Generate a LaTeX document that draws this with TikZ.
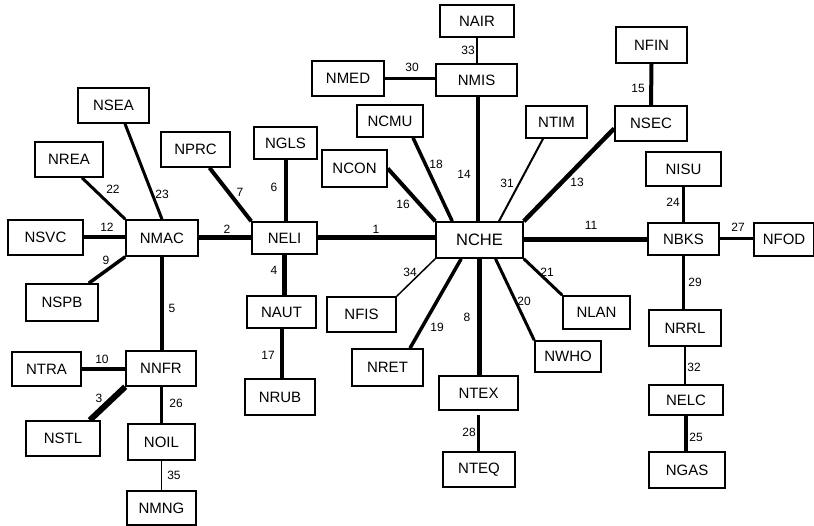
\documentclass[tikz,border=0pt]{standalone}
\usepackage{fontspec}
\setmainfont{Liberation Sans}
\usetikzlibrary{calc,backgrounds}
\tikzset{
  box/.style={draw, line width=1.6pt, fill=white, inner sep=0pt, font=\fontsize{15}{17}\selectfont},
  lbl/.style={inner sep=0pt, font=\fontsize{12}{14}\selectfont},
  edge/.style={line width=#1}
}
\newcommand{\bx}[6]{\node[box, minimum width=#4pt, minimum height=#5pt] (#1) at (#2,#3) {#6};}
\begin{document}
\begin{tikzpicture}[x=1pt,y=-1pt]
\useasboundingbox (0,0) rectangle (814,526);
% nodes
\bx{nsea}{113.5}{105.5}{71}{35}{NSEA}
\bx{nrea}{69}{159.5}{68}{35}{NREA}
\bx{nprc}{195.5}{149.5}{69}{35}{NPRC}
\bx{ngls}{285.5}{143}{63}{32}{NGLS}
\bx{nsvc}{45.5}{237.5}{75}{35}{NSVC}
\bx{nmac}{162}{238}{72}{36}{NMAC}
\bx{neli}{284.5}{238}{65}{32}{NELI}
\bx{nspb}{62}{302.5}{72}{37}{NSPB}
\bx{naut}{281.5}{312}{69}{32}{NAUT}
\bx{ntra}{46.5}{369}{69}{34}{NTRA}
\bx{nnfr}{161}{368.5}{70}{35}{NNFR}
\bx{nstl}{63}{438.5}{74}{35}{NSTL}
\bx{noil}{161.5}{442}{67}{36}{NOIL}
\bx{nmng}{161.5}{508}{69}{34}{NMNG}
\bx{nrub}{280}{397}{70}{36}{NRUB}
\bx{nair}{477}{21}{74}{32}{NAIR}
\bx{nmed}{348}{78.5}{72}{35}{NMED}
\bx{nmis}{476.5}{80}{81}{32}{NMIS}
\bx{ncmu}{390}{121}{66}{32}{NCMU}
\bx{ntim}{556.5}{122}{61}{32}{NTIM}
\bx{ncon}{354.5}{168.5}{65}{37}{NCON}
\node[box, minimum width=87pt, minimum height=36pt, font=\fontsize{16.5}{19}\selectfont] (nche) at (479.5,240) {NCHE};
\bx{nfis}{361.5}{314.5}{69}{35}{NFIS}
\bx{nret}{387.5}{367.5}{71}{37}{NRET}
\bx{ntex}{478.5}{393}{79}{34}{NTEX}
\bx{nteq}{479}{469.5}{72}{35}{NTEQ}
\bx{nlan}{596.5}{312.5}{67}{33}{NLAN}
\bx{nwho}{568}{356.5}{66}{31}{NWHO}
\bx{nfin}{651.5}{45}{71}{36}{NFIN}
\bx{nsec}{651}{123.5}{72}{35}{NSEC}
\bx{nisu}{683.5}{169}{75}{34}{NISU}
\bx{nbks}{683.5}{239}{71}{32}{NBKS}
\bx{nfod}{784}{239.5}{60}{33}{NFOD}
\bx{nrrl}{685}{328}{72}{36}{NRRL}
\bx{nelc}{686}{400}{74}{30}{NELC}
\bx{ngas}{687}{470}{76}{36}{NGAS}
\coordinate (c14) at ($(nche.north)+(-1.5,0)$);
% edges
\begin{pgfonlayer}{background}
\draw[edge=5pt] (neli.east) -- (neli.east -| nche.west);
\draw[edge=5pt] (nmac.east) -- (nmac.east -| neli.west);
\draw[edge=6pt] (nnfr.south west) -- ($(nstl.north east)+(-11,0)$);
\draw[edge=4.5pt] (neli.south) -- (neli.south |- naut.north);
\draw[edge=4.5pt] (nmac.south) -- (nmac.south |- nnfr.north);
\draw[edge=4pt] (ngls.south) -- (ngls.south |- neli.north);
\draw[edge=4pt] ($(nprc.south)+(14,0)$) -- (neli.north west);
\draw[edge=4.5pt] (nche.south) -- (nche.south |- ntex.north);
\draw[edge=3.5pt] (nmac.south west) -- ($(nspb.north east)+(-10,0)$);
\draw[edge=4pt] (ntra.east) -- (ntra.east -| nnfr.west);
\draw[edge=5pt] (nche.east) -- (nche.east -| nbks.west);
\draw[edge=4pt] (nsvc.east) -- (nsvc.east -| nmac.west);
\draw[edge=4.5pt] ($(nsec.west)+(0,5)$) -- (nche.north east);
\draw[edge=4.3pt] (c14) -- (c14 |- nmis.south);
\draw[edge=4pt] (nfin.south) -- (nsec.north);
\draw[edge=4pt] (ncon.east) -- (nche.north west);
\draw[edge=4pt] (naut.south) -- (naut.south |- nrub.north);
\draw[edge=3.5pt] ($(ncmu.south)+(23,0)$) -- ($(nche.north west)+(17,0)$);
\draw[edge=3.5pt] ($(nche.south west)+(26,0)$) -- ($(nret.north)+(22.5,0)$);
\draw[edge=3pt] ($(nche.south)+(16,0)$) -- (nwho.north west);
\draw[edge=3pt] (nche.south east) -- (nlan.north west);
\draw[edge=3pt] ($(nrea.south)+(13,0)$) -- (nmac.north west);
\draw[edge=3pt] ($(nsea.south)+(11.5,0)$) -- (nmac.north);
\draw[edge=3pt] (nisu.south) -- (nisu.south |- nbks.north);
\draw[edge=3.5pt] (nelc.south) -- (nelc.south |- ngas.north);
\draw[edge=3pt] (nnfr.south) -- (nnfr.south |- noil.north);
\draw[edge=3pt] (nbks.east) -- (nbks.east -| nfod.west);
\draw[edge=3pt] ($(ntex.south)+(0,4)$) -- (ntex.south |- nteq.north);
\draw[edge=3pt] (nbks.south) -- (nbks.south |- nrrl.north);
\draw[edge=3pt] (nmed.east) -- (nmed.east -| nmis.west);
\draw[edge=2pt] ($(ntim.south)+(-13.5,0)$) -- ($(nche.north)+(19.5,0)$);
\draw[edge=2pt] (nrrl.south) -- (nrrl.south |- nelc.north);
\draw[edge=2.5pt] (nair.south) -- (nair.south |- nmis.north);
\draw[edge=1.5pt] (nche.south west) -- (nfis.north east);
\draw[edge=1.5pt] (noil.south) -- (noil.south |- nmng.north);
\end{pgfonlayer}
% labels
\node[lbl] (l1) at (376,229) {1};
\node[lbl] (l2) at (227,229) {2};
\node[lbl] (l3) at (99,398) {3};
\node[lbl] (l4) at (274,270) {4};
\node[lbl] (l5) at (172,308) {5};
\node[lbl] (l6) at (274,187) {6};
\node[lbl] (l7) at (240,192) {7};
\node[lbl] (l8) at (467,317) {8};
\node[lbl] (l9) at (106,260) {9};
\node[lbl] (l10) at (102,359) {10};
\node[lbl] (l11) at (591,225) {11};
\node[lbl] (l12) at (107,227) {12};
\node[lbl] (l13) at (577,182) {13};
\node[lbl] (l14) at (464,174) {14};
\node[lbl] (l15) at (638,88) {15};
\node[lbl] (l16) at (403,204) {16};
\node[lbl] (l17) at (268,355) {17};
\node[lbl] (l18) at (436,164) {18};
\node[lbl] (l19) at (437,327) {19};
\node[lbl] (l20) at (524,301) {20};
\node[lbl] (l21) at (547,272) {21};
\node[lbl] (l22) at (113,189) {22};
\node[lbl] (l23) at (162,194) {23};
\node[lbl] (l24) at (673,202) {24};
\node[lbl] (l25) at (696,437) {25};
\node[lbl] (l26) at (176,403) {26};
\node[lbl] (l27) at (738,227) {27};
\node[lbl] (l28) at (469,432) {28};
\node[lbl] (l29) at (695,282) {29};
\node[lbl] (l30) at (412,67) {30};
\node[lbl] (l31) at (507,183) {31};
\node[lbl] (l32) at (694,367) {32};
\node[lbl] (l33) at (468,50) {33};
\node[lbl] (l34) at (410,272) {34};
\node[lbl] (l35) at (174,475) {35};
\end{tikzpicture}
\end{document}
